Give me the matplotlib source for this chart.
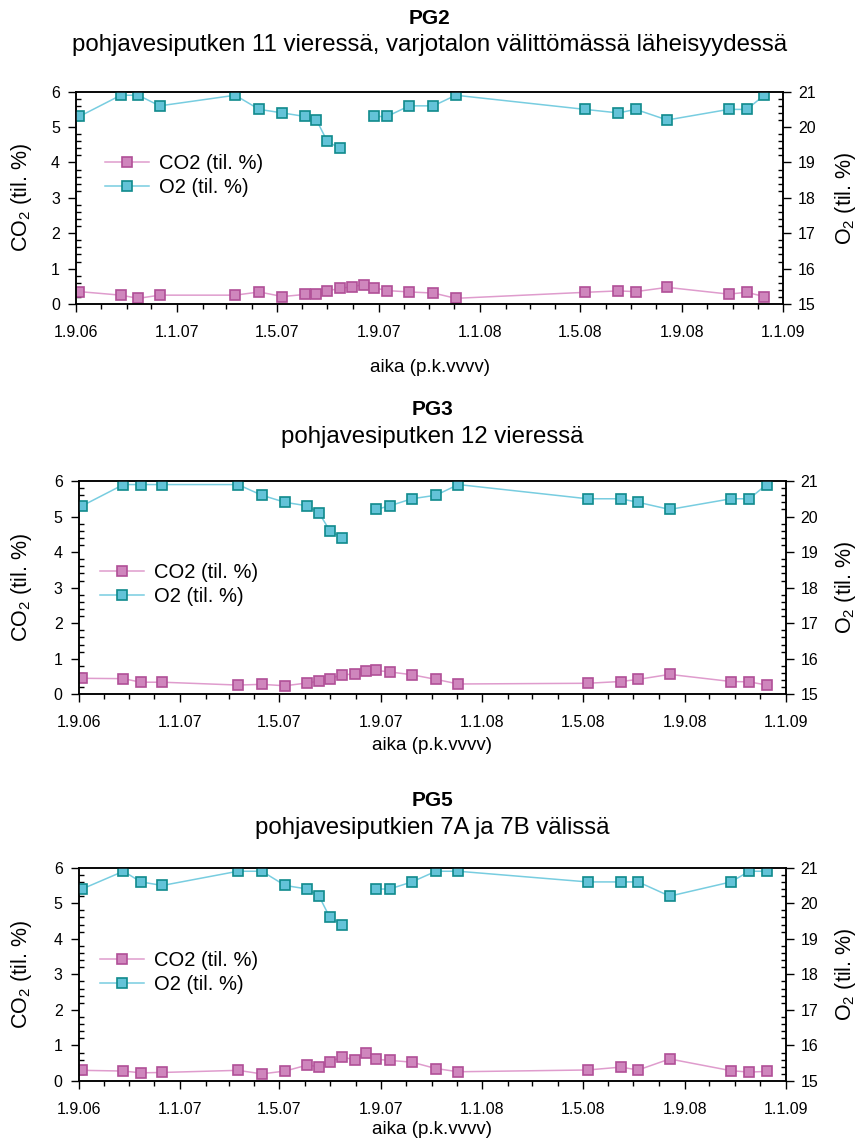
import numpy as np
import pandas as pd
import matplotlib
matplotlib.use('Agg')
import matplotlib.pyplot as plt
import matplotlib.dates as mdates

plt.rcParams['font.family'] = ['Liberation Sans', 'DejaVu Sans']
plt.rcParams['mathtext.fontset'] = 'custom'
plt.rcParams['mathtext.rm'] = 'Liberation Sans'
plt.rcParams['mathtext.it'] = 'Liberation Sans:italic'

# Sampling dates (same for all three points)
dates = pd.to_datetime([
    '2006-09-05', '2006-10-25', '2006-11-15', '2006-12-11', '2007-03-12',
    '2007-04-10', '2007-05-08', '2007-06-04', '2007-06-18', '2007-07-01',
    '2007-07-16', '2007-07-31', '2007-08-14', '2007-08-26', '2007-09-11',
    '2007-10-08', '2007-11-06', '2007-12-03', '2008-05-07', '2008-06-16',
    '2008-07-07', '2008-08-14', '2008-10-27', '2008-11-18', '2008-12-09'])

nan = np.nan
co2_pg2 = [0.35, 0.25, 0.16, 0.25, 0.25, 0.34, 0.21, 0.27, 0.27, 0.37, 0.44, 0.49, 0.55,
           0.46, 0.38, 0.34, 0.31, 0.16, 0.33, 0.37, 0.35, 0.47, 0.28, 0.33, 0.21]
o2_pg2 = [20.3, 20.9, 20.9, 20.6, 20.9, 20.5, 20.4, 20.3, 20.2, 19.6, 19.4, nan, nan,
          20.3, 20.3, 20.6, 20.6, 20.9, 20.5, 20.4, 20.5, 20.2, 20.5, 20.5, 20.9]

co2_pg3 = [0.45, 0.44, 0.34, 0.34, 0.26, 0.28, 0.24, 0.32, 0.37, 0.44, 0.55, 0.57, 0.65,
           0.67, 0.63, 0.55, 0.42, 0.29, 0.31, 0.36, 0.42, 0.56, 0.36, 0.35, 0.26]
o2_pg3 = [20.3, 20.9, 20.9, 20.9, 20.9, 20.6, 20.4, 20.3, 20.1, 19.6, 19.4, nan, nan,
          20.2, 20.3, 20.5, 20.6, 20.9, 20.5, 20.5, 20.4, 20.2, 20.5, 20.5, 20.9]

co2_pg5 = [0.30, 0.28, 0.23, 0.24, 0.30, 0.20, 0.28, 0.45, 0.40, 0.54, 0.68, 0.59, 0.78,
           0.61, 0.58, 0.53, 0.35, 0.26, 0.31, 0.39, 0.31, 0.62, 0.29, 0.25, 0.27]
o2_pg5 = [20.4, 20.9, 20.6, 20.5, 20.9, 20.9, 20.5, 20.4, 20.2, 19.6, 19.4, nan, nan,
          20.4, 20.4, 20.6, 20.9, 20.9, 20.6, 20.6, 20.6, 20.2, 20.6, 20.9, 20.9]

titles = ['PG2', 'PG3', 'PG5']
subtitles = ['pohjavesiputken 11 vieressä, varjotalon välittömässä läheisyydessä',
             'pohjavesiputken 12 vieressä',
             'pohjavesiputkien 7A ja 7B välissä']
co2_all = [co2_pg2, co2_pg3, co2_pg5]
o2_all = [o2_pg2, o2_pg3, o2_pg5]

W, H = 859, 1143
fig = plt.figure(figsize=(W / 100, H / 100), dpi=100)

# panel boxes in pixels: left, right, top, bottom
boxes = [(76, 783.3, 91.7, 304), (78.7, 785.7, 481, 694.3), (78.7, 785.7, 867.7, 1081)]
title_y = [18, 410, 800]
sub_y = [45, 437, 828]
xlab_y = [368, 746, 1130]
leg_pos = [(0.041, 0.605), (0.030, 0.514), (0.030, 0.508)]

co2_line, co2_face, co2_edge = '#df9ccd', '#cf86bd', '#b04f97'
o2_line, o2_face, o2_edge = '#78cde0', '#63c3d8', '#0f8a8c'

def fmt_date(x, pos=None):
    d = mdates.num2date(x)
    return f'{d.day}.{d.month}.{d.strftime("%y")}'

for i in range(3):
    l, r, t, b = boxes[i]
    ax = fig.add_axes([l / W, (H - b) / H, (r - l) / W, (b - t) / H])
    ax2 = ax.twinx()

    h1, = ax.plot(dates, co2_all[i], color=co2_line, lw=1.1, marker='s', ms=7.3,
                  mfc=co2_face, mec=co2_edge, mew=1.2, label='CO2 (til. %)')
    h2, = ax2.plot(dates, o2_all[i], color=o2_line, lw=1.1, marker='s', ms=7.3,
                   mfc=o2_face, mec=o2_edge, mew=1.2, label='O2 (til. %)')

    ax.set_xlim(pd.Timestamp('2006-09-01'), pd.Timestamp('2009-01-01'))
    ax.set_ylim(0, 6)
    ax2.set_ylim(15, 21)
    ax.set_yticks(np.arange(0, 7, 1))
    ax.set_yticks(np.arange(0, 6.01, 0.2), minor=True)
    ax2.set_yticks(np.arange(15, 22, 1))
    ax2.set_yticks(np.arange(15, 21.01, 0.2), minor=True)
    ax.xaxis.set_major_locator(mdates.MonthLocator(bymonth=[1, 5, 9]))
    ax.xaxis.set_minor_locator(mdates.MonthLocator())
    ax.xaxis.set_major_formatter(plt.FuncFormatter(fmt_date))

    ax.tick_params(axis='y', which='major', direction='out', length=5.5, width=1,
                   labelsize=11.5, pad=6)
    ax.tick_params(axis='y', which='minor', direction='in', length=3.5, width=1)
    ax.tick_params(axis='x', which='major', direction='out', length=6, width=1,
                   labelsize=11.5, pad=9)
    ax.tick_params(axis='x', which='minor', direction='out', length=3.5, width=1)
    ax2.tick_params(axis='y', which='major', direction='out', length=5.5, width=1,
                    labelsize=11.5, pad=5)
    ax2.tick_params(axis='y', which='minor', direction='in', length=3.5, width=1)
    for a in (ax, ax2):
        for s in a.spines.values():
            s.set_linewidth(1.1)

    ax.set_ylabel(r'CO$_\mathrm{2}$ (til. %)', fontsize=15.5, va='center')
    ax.yaxis.set_label_coords(-(l - 22) / (r - l), 0.5)
    ax2.set_ylabel(r'O$_\mathrm{2}$ (til. %)', fontsize=15.5, rotation=90, va='center')
    ax2.yaxis.set_label_coords((846 - l) / (r - l), 0.5)
    ax.set_xlabel('aika (p.k.vvvv)', fontsize=13.5, va='center')
    ax.xaxis.set_label_coords(0.5, -(xlab_y[i] - b) / (b - t))

    ax2.legend([h1, h2], ['CO2 (til. %)', 'O2 (til. %)'], loc='center left',
               bbox_to_anchor=leg_pos[i], frameon=False, fontsize=14.5,
               borderpad=0, borderaxespad=0, handlelength=2.2, handletextpad=0.5,
               labelspacing=0.25)

    cx = (l + r) / 2 / W
    fig.text(cx, 1 - title_y[i] / H, titles[i], ha='center', va='center',
             fontsize=15, fontweight='bold')
    fig.text(cx, 1 - sub_y[i] / H, subtitles[i], ha='center', va='center', fontsize=17.3)

fig.savefig('out.png', dpi=100)
